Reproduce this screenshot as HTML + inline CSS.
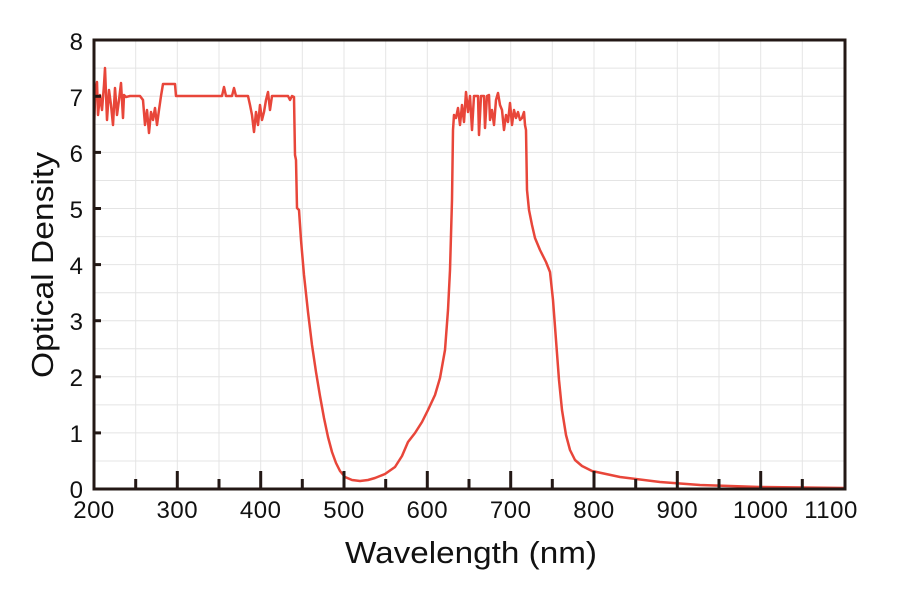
<!DOCTYPE html>
<html><head><meta charset="utf-8"><style>
html,body{margin:0;padding:0;background:#fff;}
svg{display:block;font-family:"Liberation Sans",sans-serif;}
</style></head><body>
<svg width="901" height="601" viewBox="0 0 901 601" xmlns="http://www.w3.org/2000/svg">
<rect width="901" height="601" fill="#fff"/>
<g stroke="#e4e4e4" stroke-width="1">
<line x1="135.7" y1="40" x2="135.7" y2="489"/><line x1="177.3" y1="40" x2="177.3" y2="489"/>
<line x1="219" y1="40" x2="219" y2="489"/><line x1="260.7" y1="40" x2="260.7" y2="489"/>
<line x1="302.3" y1="40" x2="302.3" y2="489"/><line x1="344" y1="40" x2="344" y2="489"/>
<line x1="385.7" y1="40" x2="385.7" y2="489"/><line x1="427.3" y1="40" x2="427.3" y2="489"/>
<line x1="469" y1="40" x2="469" y2="489"/><line x1="510.7" y1="40" x2="510.7" y2="489"/>
<line x1="552.3" y1="40" x2="552.3" y2="489"/><line x1="594" y1="40" x2="594" y2="489"/>
<line x1="635.7" y1="40" x2="635.7" y2="489"/><line x1="677.3" y1="40" x2="677.3" y2="489"/>
<line x1="719" y1="40" x2="719" y2="489"/><line x1="760.7" y1="40" x2="760.7" y2="489"/>
<line x1="802.3" y1="40" x2="802.3" y2="489"/>
<line x1="94" y1="68.1" x2="845" y2="68.1"/><line x1="94" y1="96.3" x2="845" y2="96.3"/>
<line x1="94" y1="124.4" x2="845" y2="124.4"/><line x1="94" y1="152.4" x2="845" y2="152.4"/>
<line x1="94" y1="180.5" x2="845" y2="180.5"/><line x1="94" y1="208.5" x2="845" y2="208.5"/>
<line x1="94" y1="236.6" x2="845" y2="236.6"/><line x1="94" y1="264.6" x2="845" y2="264.6"/>
<line x1="94" y1="292.7" x2="845" y2="292.7"/><line x1="94" y1="320.7" x2="845" y2="320.7"/>
<line x1="94" y1="348.8" x2="845" y2="348.8"/><line x1="94" y1="376.8" x2="845" y2="376.8"/>
<line x1="94" y1="404.9" x2="845" y2="404.9"/><line x1="94" y1="432.9" x2="845" y2="432.9"/>
<line x1="94" y1="461" x2="845" y2="461"/>
</g>
<polyline fill="none" stroke="#e8463a" stroke-width="2.5" stroke-linejoin="round" points="94,128 95,100 97,82 98,115 100,95 102,110 104,85 105,68 107,120 109,90 111,105 113,125 115,88 117,115 119,100 121,83 123,118 124,95 126,97 130,96 140,96 143,100 145,125 147,110 149,133 151,112 153,120 155,108 157,125 159,110 161,96 163,84 175,84 176,96 222,96 224,87 226,96 232,96 234,88 236,96 248,96 250,105 252,115 254,132 256,112 258,125 260,105 262,120 264,112 266,100 268,92 270,110 272,96 288,96 290,100 292,96 294,97 295,155 296,160 297,208 299,210 301,240 304,275 308,312 312,345 316,372 320,396 324,418 328,437 332,452 336,463 340,471 345,477 352,480 360,481 368,480 375,478 385,474 395,467 402,456 408,442 415,433 422,422 428,410 435,395 440,378 445,350 448,310 450,270 452,200 453,130 454,115 456,118 458,108 460,125 462,105 464,122 466,92 468,112 470,96 472,130 474,96 478,96 479,135 481,96 484,96 485,128 487,96 489,95 490,120 492,110 494,125 496,100 498,93 500,105 502,110 504,130 506,115 508,122 510,103 512,125 514,110 516,118 518,112 520,120 522,118 524,112 525,125 526,130 527,190 529,210 532,225 535,238 540,250 546,262 550,272 553,300 556,340 559,380 562,410 566,435 570,450 575,460 582,466 592,471 620,477 660,482 700,485 760,487 845,488"/>
<g stroke="#231815" stroke-width="3">
<line x1="135.7" y1="489" x2="135.7" y2="479"/><line x1="177.3" y1="489" x2="177.3" y2="471"/>
<line x1="219" y1="489" x2="219" y2="479"/><line x1="260.7" y1="489" x2="260.7" y2="471"/>
<line x1="302.3" y1="489" x2="302.3" y2="479"/><line x1="344" y1="489" x2="344" y2="471"/>
<line x1="385.7" y1="489" x2="385.7" y2="479"/><line x1="427.3" y1="489" x2="427.3" y2="471"/>
<line x1="469" y1="489" x2="469" y2="479"/><line x1="510.7" y1="489" x2="510.7" y2="471"/>
<line x1="552.3" y1="489" x2="552.3" y2="479"/><line x1="594" y1="489" x2="594" y2="471"/>
<line x1="635.7" y1="489" x2="635.7" y2="479"/><line x1="677.3" y1="489" x2="677.3" y2="471"/>
<line x1="719" y1="489" x2="719" y2="479"/><line x1="760.7" y1="489" x2="760.7" y2="471"/>
<line x1="802.3" y1="489" x2="802.3" y2="479"/>
<line x1="94" y1="96.3" x2="101" y2="96.3"/><line x1="94" y1="152.4" x2="101" y2="152.4"/>
<line x1="94" y1="208.5" x2="101" y2="208.5"/><line x1="94" y1="264.6" x2="101" y2="264.6"/>
<line x1="94" y1="320.7" x2="101" y2="320.7"/><line x1="94" y1="376.8" x2="101" y2="376.8"/>
<line x1="94" y1="432.9" x2="101" y2="432.9"/>
<rect x="94" y="40" width="751" height="449" fill="none"/>
</g>
<g fill="#111" font-size="24" text-anchor="end">
<text x="83" y="50">8</text><text x="83" y="106">7</text><text x="83" y="162">6</text>
<text x="83" y="218">5</text><text x="83" y="274">4</text><text x="83" y="330">3</text>
<text x="83" y="386">2</text><text x="83" y="442">1</text><text x="83" y="498">0</text>
</g>
<g fill="#111" font-size="24" text-anchor="middle" letter-spacing="0.5">
<text x="94" y="518">200</text><text x="177.3" y="518">300</text><text x="260.7" y="518">400</text>
<text x="344" y="518">500</text><text x="427.3" y="518">600</text><text x="510.7" y="518">700</text>
<text x="594" y="518">800</text><text x="677.3" y="518">900</text><text x="760.7" y="518">1000</text>
<text x="831" y="518">1100</text>
</g>
<text x="471" y="563" font-size="31" text-anchor="middle" fill="#111" textLength="252" lengthAdjust="spacingAndGlyphs">Wavelength (nm)</text>
<text transform="translate(53,265) rotate(-90)" font-size="31" text-anchor="middle" fill="#111" textLength="226" lengthAdjust="spacingAndGlyphs">Optical Density</text>
</svg>
</body></html>
